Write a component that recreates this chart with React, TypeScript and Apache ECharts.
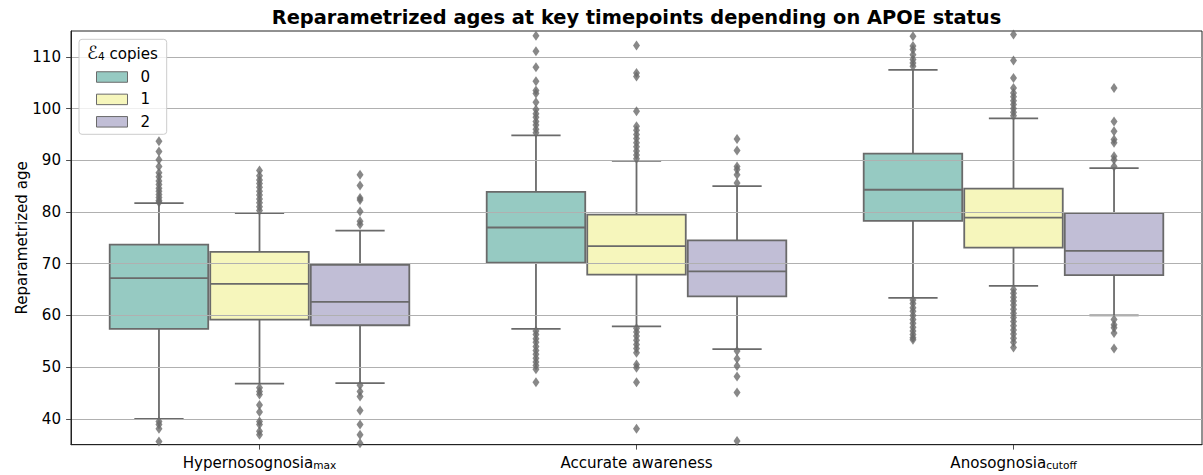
import React, { useEffect, useRef } from "react";
import * as echarts from "echarts";

// ---- data ----
const categories = ["Hypernosognosia_max", "Accurate awareness", "Anosognosia_cutoff"];
const hueNames = ["0", "1", "2"];
const yTicks = [40, 50, 60, 70, 80, 90, 100, 110];

// [lower whisker, Q1, median, Q3, upper whisker] per category
const stats0 = [
  [40.0, 57.4, 67.2, 73.7, 81.7],
  [57.4, 70.2, 77.0, 83.9, 94.8],
  [63.4, 78.3, 84.3, 91.3, 107.5],
];
const stats1 = [
  [46.8, 59.2, 66.1, 72.3, 79.8],
  [57.9, 67.9, 73.4, 79.5, 89.9],
  [65.7, 73.1, 78.9, 84.5, 98.1],
];
const stats2 = [
  [46.9, 58.1, 62.6, 69.8, 76.4],
  [53.5, 63.7, 68.5, 74.5, 85.0],
  [60.0, 67.8, 72.5, 79.8, 88.5],
];

const outliers0 = [
  [93.7, 91.7, 90.1, 88.8, 87.6, 86.8, 86.0, 85.3, 84.6, 84.0, 83.4, 82.8, 82.2, 81.9, 39.5, 38.9, 38.1, 35.6],
  [114.1, 111.1, 108.0, 105.3, 103.5, 102.9, 101.2, 99.8, 99.0, 98.3, 97.5, 96.8, 96.0, 95.3, 57.0, 56.3, 55.5, 54.8, 54.0, 53.2, 52.5, 51.7, 51.0, 50.3, 49.6, 47.1],
  [114.0, 112.1, 111.4, 110.4, 109.5, 108.8, 108.2, 63.0, 62.3, 61.5, 60.8, 60.0, 59.2, 58.5, 57.7, 57.0, 56.3, 55.7, 55.3],
];
const outliers1 = [
  [88.0, 87.0, 86.2, 85.5, 84.8, 84.0, 83.3, 82.5, 81.8, 81.0, 80.3, 46.0, 45.3, 44.7, 42.7, 41.3, 39.5, 38.9, 37.6, 36.9],
  [112.2, 106.9, 106.2, 99.5, 96.6, 95.8, 95.0, 94.2, 93.4, 92.6, 91.8, 91.0, 90.3, 57.5, 56.8, 56.0, 55.2, 54.4, 53.6, 52.8, 50.5, 49.9, 47.1, 38.1],
  [114.3, 109.3, 105.9, 104.0, 103.0, 102.3, 101.5, 100.8, 100.0, 99.3, 98.6, 65.0, 64.3, 63.5, 62.8, 62.0, 61.2, 60.4, 59.6, 58.8, 58.0, 57.2, 56.4, 55.6, 54.8, 53.8],
];
const outliers2 = [
  [87.2, 85.1, 82.7, 82.3, 80.1, 78.2, 77.6, 46.5, 45.3, 44.3, 41.6, 38.9, 36.9, 35.3],
  [94.1, 91.9, 88.8, 88.2, 87.2, 85.6, 53.1, 51.6, 50.2, 48.2, 45.1, 35.7],
  [104.0, 97.5, 95.6, 94.0, 93.4, 90.8, 90.1, 88.8, 59.2, 58.2, 57.6, 56.6, 53.6],
];

const statsByHue = [stats0, stats1, stats2];
const outliersByHue = [outliers0, outliers1, outliers2];
const hueColors = ["#96cac2", "#f6f6bc", "#c1bed6"];

// ---- layout constants ----
const LINE = "#6a6a6a";
const FONT = "DejaVu Sans";
const FS = 15.1;
const FS_SUB = 10.6;
const HUE_STEP = 0.8 / 3;
const BOX_W = HUE_STEP * 0.98;

function fmtLabel(s: string) {
  const [a, b] = s.split("_");
  return b ? `{n|${a}}{s|${b}}` : `{n|${a}}`;
}

export default function App() {
  const ref = useRef<HTMLDivElement>(null);

  useEffect(() => {
    if (!ref.current) return;
    const chart = echarts.init(ref.current, undefined, { renderer: "svg" });

    const boxSeries = hueNames.map((name, h) => ({
      name,
      type: "custom",
      xAxisIndex: 1,
      yAxisIndex: 0,
      z: 2,
      itemStyle: { color: hueColors[h] },
      encode: { x: 0, y: [1, 2, 3, 4, 5] },
      data: statsByHue[h].map((s, c) => [c + (h - 1) * HUE_STEP, ...s]),
      renderItem: (params: any, api: any) => {
        const x = api.value(0);
        const lo = api.coord([x, api.value(1)]);
        const q1 = api.coord([x, api.value(2)]);
        const md = api.coord([x, api.value(3)]);
        const q3 = api.coord([x, api.value(4)]);
        const hi = api.coord([x, api.value(5)]);
        const w = api.size([BOX_W, 0])[0];
        const cx = lo[0];
        const lineStyle = { stroke: LINE, lineWidth: 1.8 };
        return {
          type: "group",
          children: [
            { type: "line", shape: { x1: cx, y1: q1[1], x2: cx, y2: lo[1] }, style: lineStyle },
            { type: "line", shape: { x1: cx, y1: q3[1], x2: cx, y2: hi[1] }, style: lineStyle },
            { type: "line", shape: { x1: cx - w / 4, y1: lo[1], x2: cx + w / 4, y2: lo[1] }, style: lineStyle },
            { type: "line", shape: { x1: cx - w / 4, y1: hi[1], x2: cx + w / 4, y2: hi[1] }, style: lineStyle },
            {
              type: "rect",
              shape: { x: cx - w / 2, y: q3[1], width: w, height: q1[1] - q3[1] },
              style: { fill: hueColors[h], stroke: LINE, lineWidth: 1.8 },
            },
            { type: "line", shape: { x1: cx - w / 2, y1: md[1], x2: cx + w / 2, y2: md[1] }, style: lineStyle },
          ],
        };
      },
    }));

    const outlierSeries = hueNames.map((name, h) => ({
      name: "outliers " + name,
      type: "scatter",
      xAxisIndex: 1,
      yAxisIndex: 0,
      z: 4,
      clip: true,
      symbol: "diamond",
      symbolSize: [7, 10],
      itemStyle: { color: LINE },
      data: outliersByHue[h].flatMap((arr, c) => arr.map((v) => [c + (h - 1) * HUE_STEP, v])),
    }));

    chart.setOption({
      animation: false,
      grid: {
        left: 71,
        right: 1,
        top: 31,
        bottom: 30.3,
        show: true,
        borderColor: "#222",
        borderWidth: 1,
        backgroundColor: "transparent",
      },
      xAxis: [
        {
          type: "category",
          data: categories,
          position: "bottom",
          axisLine: { show: true, onZero: false, lineStyle: { color: "#222", width: 1 } },
          axisTick: { show: true, alignWithLabel: true, length: 4.9, lineStyle: { color: "#222", width: 0.8 } },
          splitLine: { show: false },
          axisLabel: {
            margin: 9,
            color: "#000",
            formatter: (v: string) => fmtLabel(v),
            rich: {
              n: { fontSize: FS, fontFamily: FONT, color: "#000", lineHeight: 17, verticalAlign: "bottom" },
              s: { fontSize: FS_SUB, fontFamily: FONT, color: "#000", lineHeight: 4, verticalAlign: "bottom" },
            },
          },
        },
        { type: "value", min: -0.5, max: 2.5, show: false },
      ],
      yAxis: {
        type: "value",
        min: 35,
        max: 115,
        z: 3,
        name: "Reparametrized age",
        nameLocation: "middle",
        nameGap: 42,
        nameMoveOverlap: false,
        nameTextStyle: { fontSize: FS, fontFamily: FONT, color: "#000" },
        axisLine: { show: true, onZero: false, lineStyle: { color: "#222", width: 1 } },
        axisTick: { show: true, length: 4.9, customValues: yTicks, lineStyle: { color: "#222", width: 0.8 } },
        axisLabel: { customValues: yTicks, margin: 10, fontSize: FS, fontFamily: FONT, color: "#000" },
        splitLine: { show: true, lineStyle: { color: "#b0b0b0", width: 1 } },
      },
      legend: {
        data: hueNames,
        orient: "vertical",
        left: 96,
        top: 69.5,
        padding: 0,
        z: 6,
        icon: "rect",
        itemWidth: 31,
        itemHeight: 10.5,
        itemGap: 7.4,
        itemStyle: { borderColor: LINE, borderWidth: 1 },
        textStyle: { fontSize: FS, fontFamily: FONT, color: "#000", padding: [0, 0, 0, 8] },
      },
      graphic: [
        {
          type: "text",
          x: 636.5,
          y: 17,
          z: 10,
          style: {
            text: "Reparametrized ages at key timepoints depending on APOE status",
            font: `bold 19.4px "${FONT}"`,
            fill: "#000",
            align: "center",
            verticalAlign: "middle",
          },
        },
        {
          type: "rect",
          z: 5,
          shape: { x: 79, y: 39.3, width: 87.7, height: 95, r: 3 },
          style: { fill: "rgba(255,255,255,0.8)", stroke: "#cccccc", lineWidth: 1 },
        },
        {
          type: "text",
          x: 122.5,
          y: 52.7,
          z: 6,
          style: {
            text: "{e|ℰ}{s|4}{n| copies}",
            align: "center",
            verticalAlign: "middle",
            rich: {
              e: { fontSize: 18, fontFamily: FONT, fill: "#000", lineHeight: 18, verticalAlign: "bottom" },
              s: { fontSize: FS_SUB, fontFamily: FONT, fill: "#000", lineHeight: 4, verticalAlign: "bottom" },
              n: { fontSize: FS, fontFamily: FONT, fill: "#000", lineHeight: 18, verticalAlign: "bottom" },
            },
          },
        },
      ],
      series: [...boxSeries, ...outlierSeries],
    });

    return () => chart.dispose();
  }, []);

  return (
    <div
      ref={ref}
      style={{ position: "absolute", left: 0, top: 0, width: 1203, height: 475 }}
    />
  );
}
